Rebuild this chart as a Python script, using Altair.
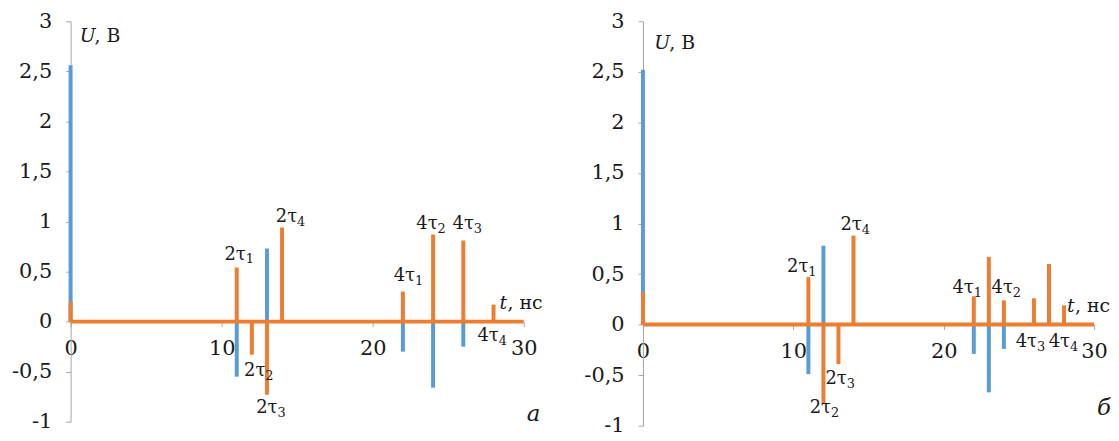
import altair as alt
import pandas as pd

FONT = "DejaVu Serif"
TXT = "#1a1a1a"
BLUE = "#5B9BD5"
ORANGE = "#ED7D31"
GREY = "#A6A6A6"

# ---- panel a ----
t_blue_a = [0, 11, 13, 22, 24, 26]
u_blue_a = [2.56, -0.55, 0.73, -0.30, -0.66, -0.25]
t_orange_a = [0, 11, 12, 13, 14, 22, 24, 26, 28]
u_orange_a = [0.20, 0.54, -0.33, -0.73, 0.94, 0.30, 0.87, 0.81, 0.17]

# ---- panel б ----
t_blue_b = [0, 11, 12, 22, 23, 24]
u_blue_b = [2.52, -0.49, 0.78, -0.29, -0.67, -0.24]
t_orange_b = [0, 11, 12, 13, 14, 22, 23, 24, 26, 27, 28]
u_orange_b = [0.32, 0.47, -0.78, -0.39, 0.88, 0.28, 0.67, 0.24, 0.26, 0.60, 0.19]

# ---- annotations (label = prefix + subscript) ----
tau_prefix = ["2τ", "2τ", "2τ", "2τ", "4τ", "4τ", "4τ", "4τ"]
tau_sub = ["1", "2", "3", "4", "1", "2", "3", "4"]
label_t_a = [11.2, 12.5, 13.3, 14.6, 22.4, 23.9, 26.3, 27.95]
label_u_a = [0.67, -0.49, -0.86, 1.04, 0.46, 0.97, 0.97, -0.14]
label_t_b = [10.6, 12.1, 13.15, 14.15, 21.6, 24.2, 25.8, 28.0]
label_u_b = [0.57, -0.83, -0.54, 0.98, 0.36, 0.36, -0.17, -0.17]

x_ticks = [0, 10, 20, 30]
y_ticks = [-1, -0.5, 0, 0.5, 1, 1.5, 2, 2.5, 3]
x_range = [0, 30]
y_range = [-1, 3]


def panel(tb, ub, to, uo, lt, lu, letter, letter_pos, u_pos, t_pos, w, h):
    xs = alt.Scale(domain=x_range, nice=False, zero=False)
    ys = alt.Scale(domain=y_range, nice=False, zero=False)
    x_axis = alt.Axis(values=x_ticks, offset=-h / 4, domain=False, grid=False,
                      tickColor=GREY, tickSize=5, tickWidth=1,
                      labelFont=FONT, labelFontSize=21, labelColor=TXT,
                      labelPadding=11, labelFlush=False, labelAngle=0,
                      labelOverlap=False, title=None)
    y_axis = alt.Axis(values=y_ticks, grid=False, domainColor=GREY,
                      tickColor=GREY, tickSize=5, tickWidth=1,
                      labelFont=FONT, labelFontSize=21, labelColor=TXT,
                      labelPadding=14, labelOverlap=False, labelFlush=False,
                      labelExpr="replace(toString(datum.value), '.', ',')",
                      title=None)

    def X(f):
        return alt.X(f, scale=xs, axis=x_axis)

    def Y(f):
        return alt.Y(f, scale=ys, axis=y_axis)

    blue = alt.Chart(pd.DataFrame({"t": tb, "u": ub})).mark_rule(
        color=BLUE, strokeWidth=4).encode(x=X("t:Q"), y=Y("u:Q"), y2=alt.datum(0))
    orange = alt.Chart(pd.DataFrame({"t": to, "u": uo})).mark_rule(
        color=ORANGE, strokeWidth=4).encode(x=X("t:Q"), y=Y("u:Q"), y2=alt.datum(0))
    base = alt.Chart(pd.DataFrame({"t": [x_range[0]], "t2": [x_range[1]], "u": [0]})).mark_rule(
        color=ORANGE, strokeWidth=4).encode(x=X("t:Q"), x2="t2:Q", y=Y("u:Q"))
    tau_df = pd.DataFrame({"t": lt, "u": lu, "p": tau_prefix, "s": tau_sub})
    taus = alt.Chart(tau_df).mark_text(
        font=FONT, fontSize=18, color=TXT, align="right", baseline="middle", dx=6).encode(
        x=X("t:Q"), y=Y("u:Q"), text="p:N")
    subs = alt.Chart(tau_df).mark_text(
        font=FONT, fontSize=13, color=TXT, align="left", baseline="middle", dx=6, dy=5).encode(
        x=X("t:Q"), y=Y("u:Q"), text="s:N")

    def txt(t, u, s, style="normal", size=19, dx=0, align="left"):
        return alt.Chart(pd.DataFrame({"t": [t], "u": [u], "s": [s]})).mark_text(
            font=FONT, fontSize=size, color=TXT, align=align, baseline="middle",
            fontStyle=style, dx=dx).encode(x=X("t:Q"), y=Y("u:Q"), text="s:N")

    layers = [blue, orange, base, taus, subs,
              txt(u_pos[0], u_pos[1], "U", "italic"),
              txt(u_pos[0], u_pos[1], ", В", dx=15),
              txt(t_pos[0], t_pos[1], "t", "italic"),
              txt(t_pos[0], t_pos[1], ", нс", dx=8),
              txt(letter_pos[0], letter_pos[1], letter, "italic", size=23, align="center")]
    return alt.layer(*layers).properties(width=w, height=h)


left = panel(t_blue_a, u_blue_a, t_orange_a, u_orange_a, label_t_a, label_u_a,
             "а", (30.65, -0.92), (0.6, 2.85), (28.4, 0.19), 456, 403)
right = panel(t_blue_b, u_blue_b, t_orange_b, u_orange_b, label_t_b, label_u_b,
              "б", (30.65, -0.83), (0.75, 2.78), (28.2, 0.18), 454, 407)

chart = alt.hconcat(left, right, spacing=120, bounds="flush").properties(
    padding={"left": 3, "top": 1, "right": 0, "bottom": 0},
    background="white"
).configure_view(stroke=None)

chart.save("out.html", embed_options={"renderer": "svg", "actions": False})
